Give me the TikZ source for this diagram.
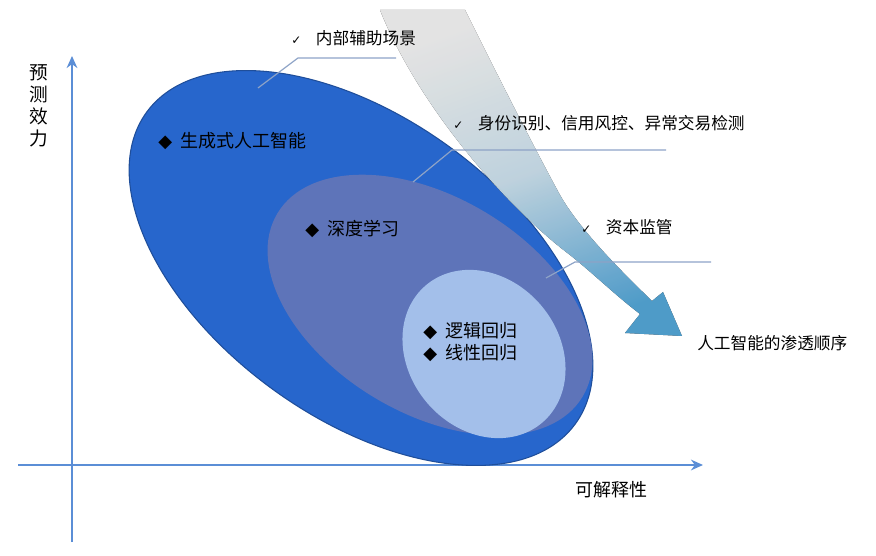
\documentclass[tikz,border=0pt]{standalone}
\usepackage{fontspec}
\setmainfont{Noto Sans CJK SC}
\newfontfamily\symf{DejaVu Sans}
\usetikzlibrary{arrows.meta}
\definecolor{outerc}{HTML}{2766CC}
\definecolor{outere}{HTML}{1F4E9A}
\definecolor{midc}{HTML}{5E74B9}
\definecolor{innc}{HTML}{A3BFEA}
\definecolor{axisc}{HTML}{5B8ED6}
\definecolor{callc}{HTML}{8EA3C7}
\definecolor{arrc}{HTML}{55ACE0}
\tikzset{x=0.75pt,y=0.75pt,
 lbl/.style={font=\fontsize{12.5}{15}\selectfont,inner sep=0pt,anchor=west},
 big/.style={font=\fontsize{13.5}{17}\selectfont},
 call/.style={draw=callc,line width=0.9pt},
 ax/.style={draw=axisc,line width=1.6pt,-{Stealth[length=9pt,width=8pt]}}}
\newcommand{\ck}{{\symf\fontsize{9}{11}\selectfont ✓}}
\newcommand{\dm}{{\symf ◆}}
\begin{document}
\begin{tikzpicture}
\useasboundingbox (0,0) rectangle (876,-556);
% axes
\coordinate (yb) at (72,-542); \coordinate (yt) at (72,-56);
\coordinate (xl) at (18,-465); \coordinate (xr) at (703,-465);
\draw[ax] (yb) -- (yt);
\draw[ax] (xl) -- (xr);
% ellipses
\fill[outerc,draw=outere,line width=0.8pt] (361,-268) ellipse[x radius=265,y radius=150,rotate=-36];
\fill[midc] (430,-305) ellipse[x radius=178,y radius=108,rotate=-31];
\fill[innc] (484,-354) ellipse[x radius=90,y radius=75,rotate=-50];
% big arrow
\fill[top color=white,bottom color=arrc,middle color=arrc!25,shading angle=20,fill opacity=0.88]
 (380,-10) .. controls (420,-110) and (510,-210) .. (570,-255)
 .. controls (595,-275) and (615,-295) .. (640,-314)
 -- (625,-333) -- (682,-336) -- (663,-292) -- (652,-301)
 .. controls (620,-270) and (580,-230) .. (560,-195)
 .. controls (530,-140) and (490,-60) .. (465,-10) -- cycle;
% callout lines
\coordinate (c1a) at (258,-88); \coordinate (c1b) at (298,-58); \coordinate (c1c) at (396,-58);
\coordinate (c2a) at (413,-182); \coordinate (c2b) at (452,-150); \coordinate (c2c) at (666,-150);
\coordinate (c3a) at (546,-278); \coordinate (c3b) at (575,-262); \coordinate (c3c) at (711,-262);
\draw[call] (c1a) -- (c1b) -- (c1c);
\draw[call] (c2a) -- (c2b) -- (c2c);
\draw[call] (c3a) -- (c3b) -- (c3c);
% texts
\node[lbl] (t1) at (291,-38) {\ck\hspace{11pt}内部辅助场景};
\node[lbl] (t2) at (453,-123) {\ck\hspace{11pt}身份识别、信用风控、异常交易检测};
\node[lbl] (t3) at (581,-227) {\ck\hspace{11pt}资本监管};
\node[lbl] (t4) at (697,-343) {人工智能的渗透顺序};
\node[lbl,big] (e1) at (158,-141) {\dm\hspace{6pt}生成式人工智能};
\node[lbl,big] (e2) at (305,-229) {\dm\hspace{6pt}深度学习};
\node[lbl,big,align=left] (e3) at (423,-342) {\dm\hspace{6pt}逻辑回归\\[-1pt]\dm\hspace{6pt}线性回归};
\node[lbl,anchor=north,align=center,font=\fontsize{14}{16.5}\selectfont] (ya) at (39,-64) {预\\测\\效\\力};
\node[lbl,big] (xa) at (575,-490) {可解释性};
\end{tikzpicture}
\end{document}
